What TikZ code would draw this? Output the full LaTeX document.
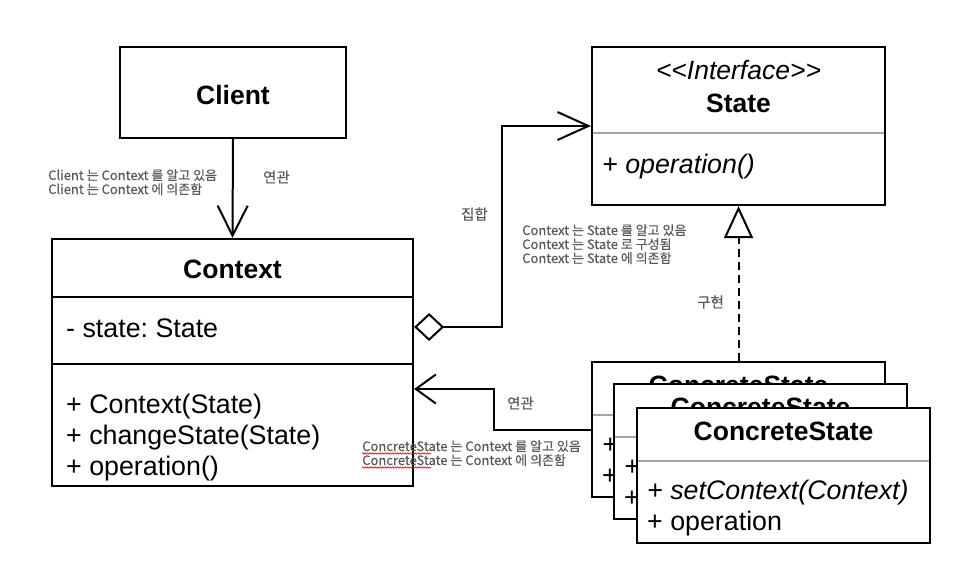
\documentclass[tikz,border=0pt]{standalone}
\usepackage{fontspec}
\setmainfont{Liberation Sans}
\newfontfamily\krfont[FakeBold=0.3]{Noto Sans CJK KR}
\usetikzlibrary{arrows.meta,decorations.pathmorphing}
\definecolor{annogray}{RGB}{90,90,90}
\definecolor{divgray}{RGB}{165,165,165}
\frenchspacing
\newcommand{\drawcsbox}[3]{%
  \node[box, minimum width=293pt, minimum height=135pt] (#1) at ({#2+146.5},{#3+67.5}) {};
  \node[titlef] at ({#2+146.5},{#3+32}) {ConcreteState};
  \draw[divline] ({#2+1},{#3+53}) -- ({#2+292},{#3+53});
  \node[memf] at ({#2+10},{#3+91}) {\itshape + setContext(Context)};
  \node[memf] at ({#2+10},{#3+122}) {+ operation};
}
\begin{document}
\begin{tikzpicture}[x=1pt,y=-1pt,
  box/.style={draw=black,line width=2.2pt,fill=white,inner sep=0pt},
  titlef/.style={font=\fontsize{26.5}{31}\selectfont\bfseries, inner sep=0pt, anchor=base},
  memf/.style={font=\fontsize{26.8}{31}\selectfont, inner sep=0pt, anchor=base west},
  annot/.style={font=\krfont\fontsize{13}{14}\selectfont, text=annogray, inner sep=0pt, anchor=base west},
  lbl/.style={font=\krfont\fontsize{14.5}{16}\selectfont, text=annogray, inner sep=0pt},
  divline/.style={draw=divgray, line width=2pt},
  conn/.style={draw=black, line width=2pt},
  squiggle/.style={draw=red, line width=0.6pt, decorate, decoration={snake, amplitude=0.7pt, segment length=2.5pt}}
]
\useasboundingbox (0,0) rectangle (971,574);
\fill[white] (0,0) rectangle (971,574);

% Client
\node[box, minimum width=226pt, minimum height=91pt] (client) at (233,92.5) {};
\node[titlef] at (233,104) {Client};

% Context
\node[box, minimum width=361pt, minimum height=247pt] (context) at (232.5,362.5) {};
\node[titlef] at (232.5,278) {Context};
\draw[line width=2.2pt] (52,297) -- (413,297);
\draw[line width=2.2pt] (52,364) -- (413,364);
\node[memf] at (66,337) {- state: State};
\node[memf] at (66,413) {+ Context(State)};
\node[memf] at (66,444) {+ changeState(State)};
\node[memf] at (66,475) {+ operation()};

% State
\node[box, minimum width=293pt, minimum height=158pt] (state) at (738.5,126) {};
\node[titlef, font=\fontsize{26.5}{31}\selectfont\itshape] at (738.5,79) {<\kern0pt<Interface>\kern0pt>};
\node[titlef] at (738.5,112) {State};
\draw[divline] (593,133) -- (884,133);
\node[memf] at (602,173) {\itshape + operation()};

% ConcreteState stack
\drawcsbox{csback}{592}{362}
\drawcsbox{csmid}{614}{384}
\drawcsbox{csfront}{637}{408}

% connectors
\draw[conn, -{Straight Barb[length=30pt,width=30pt]}] (client.south) -- (context.north);

\coordinate (ag1) at (502,327);
\coordinate (ag2) at (502,126);
\draw[conn, {Diamond[fill=white,length=30pt,width=28pt]}-{Straight Barb[length=31pt,width=28pt]}]
  (context.east |- ag1) -- (ag1) -- (ag2) -- (state.west |- ag2);

\draw[conn, dash pattern=on 8pt off 5pt, -{Triangle[fill=white,length=32pt,width=29pt]}]
  (csback.north) -- (state.south);

\coordinate (as2) at (494,389);
\draw[conn, -{Straight Barb[length=20pt,width=29pt]}]
  (csback.west) -| (as2) -- (context.east |- as2);

% labels
\node[lbl] (l1) at (276.5,177) {연관};
\node[lbl] (l2) at (474.5,214) {집합};
\node[lbl] (l3) at (710.5,302) {구현};
\node[lbl] (l4) at (520.5,403) {연관};

% annotations
\node[annot] at (48,180) {Client 는 Context 를 알고 있음};
\node[annot] at (48,194) {Client 는 Context 에 의존함};
\node[annot] at (522,235) {Context 는 State 를 알고 있음};
\node[annot] at (522,249) {Context 는 State 로 구성됨};
\node[annot] at (522,263) {Context 는 State 에 의존함};
\node[annot] (cs1) at (362,451) {ConcreteState 는 Context 를 알고 있음};
\node[annot] (cs2) at (362,465) {ConcreteState 는 Context 에 의존함};
\draw[squiggle] (362,453.5) -- (431,453.5);
\draw[squiggle] (362,467.5) -- (431,467.5);
\end{tikzpicture}
\end{document}
